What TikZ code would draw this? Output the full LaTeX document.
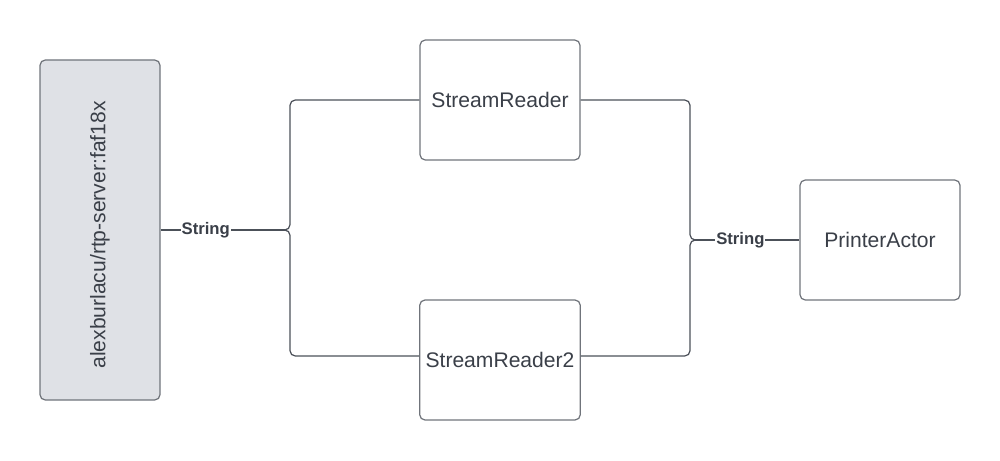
\documentclass[tikz,border=0pt]{standalone}
\usepackage{fontspec}
\setmainfont{Liberation Sans}
\usepackage{xcolor}
\usetikzlibrary{calc, positioning}

\definecolor{textgray}{HTML}{3A3F48}
\definecolor{linegray}{HTML}{4C5159}
\definecolor{boxgray}{HTML}{70747B}
\definecolor{serverfill}{HTML}{DFE1E6}

\begin{document}
\begin{tikzpicture}[
		actor/.style = {draw = boxgray, line width = 0.7pt, rounded corners = 3pt, minimum width = 3.2cm, minimum height = 2.4cm, text = textgray, font = \fontsize{12}{14}\selectfont},
		wire/.style = {draw = linegray, line width = 0.7pt},
		msg/.style = {fill = white, inner sep = 0.5pt, text = textgray, font = \bfseries\fontsize{9.5}{11}\selectfont}
	]
					\useasboundingbox (0,0) rectangle (20,9.2);

					\begin{scope}
						\node [actor, fill = serverfill, minimum width = 2.4cm, minimum height = 6.8cm] (server) at (2.0,4.6) {};
						\node [rotate = 90, text = textgray, font = \fontsize{12}{14}\selectfont] at ([yshift = -0.1cm]server.center) {alexburlacu/rtp-server:faf18x};
						\node [actor] (reader) at (10,7.2) {StreamReader};
						\node [actor] (readertwo) at (10,2.0) {StreamReader2};
						\node [actor] (printer) at (17.6,4.4) {PrinterActor};
					\end{scope}

					\coordinate (fork) at (5.8,4.6);
					\coordinate (forktip) at (5.72,4.6);
					\coordinate (join) at (13.8,4.4);
					\coordinate (jointip) at (13.88,4.4);

					\begin{scope}
						\draw [wire] (server.east) -- (forktip) node [msg, pos = 0.36] {String};
						\draw [wire, rounded corners = 3pt] (reader.west) -| (fork) -- (forktip);
						\draw [wire, rounded corners = 3pt] ([yshift = 0.08cm]readertwo.west) -| (fork) -- (forktip);
					\end{scope}

					\begin{scope}
						\draw [wire, rounded corners = 3pt] (reader.east) -| (join) -- (jointip);
						\draw [wire, rounded corners = 3pt] ([yshift = 0.08cm]readertwo.east) -| (join) -- (jointip);
						\draw [wire] (jointip) -- (printer.west) node [msg, pos = 0.44] {String};
					\end{scope}
				\end{tikzpicture}
\end{document}
